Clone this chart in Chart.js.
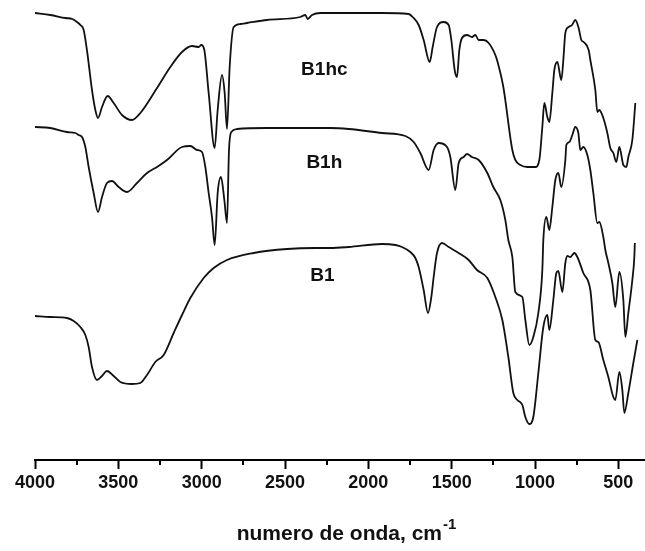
<!DOCTYPE html>
<html>
<head>
<meta charset="utf-8">
<script src="https://cdn.jsdelivr.net/npm/chart.js@4/dist/chart.umd.min.js"></script>
<style>
  html, body { margin: 0; padding: 0; background: #fff; }
  #wrap { width: 645px; height: 551px; }
</style>
</head>
<body>
<div id="wrap"><canvas id="irChart" width="645" height="551"></canvas></div>
<script>
// 波数 (cm-1) と信号 (任意単位, 縦にずらして表示)
const b1hcWavenumber = [4000, 3908, 3818, 3776, 3740, 3728, 3708, 3686, 3658, 3638, 3622, 3598, 3564, 3528, 3478, 3418, 3368, 3268, 3188, 3118,
  3058, 3018, 3002, 2984, 2958, 2922, 2904, 2878, 2862, 2848, 2832, 2808, 2768, 2728, 2608, 2408, 2378, 2364, 2338, 2288,
  2118, 1918, 1758, 1734, 1698, 1668, 1632, 1614, 1588, 1548, 1518, 1502, 1482, 1468, 1454, 1438, 1408, 1378, 1358, 1338,
  1308, 1278, 1238, 1228, 1190, 1136, 1118, 1088, 1046, 998, 974, 956, 944, 926, 914, 896, 884, 866, 842, 830,
  818, 798, 778, 758, 738, 722, 708, 678, 668, 638, 626, 614, 590, 566, 548, 530, 512, 494, 470, 452, 440, 416, 398];
const b1hcSignal = [447, 445, 442, 441, 437, 435, 430, 407, 370, 350, 342, 353, 364, 357, 345, 340, 347, 372, 393, 408,
  414, 413, 415, 410, 367, 312, 350, 385, 367, 331, 393, 433, 436, 437, 440, 443, 445, 441, 445, 447,
  447, 447, 446, 443, 435, 420, 398, 413, 433, 438, 435, 420, 390, 383, 410, 422, 425, 423, 425, 420,
  420, 417, 405, 400, 373, 310, 300, 295, 293, 293, 300, 333, 357, 343, 338, 367, 390, 398, 380, 400,
  427, 433, 435, 440, 432, 420, 418, 410, 400, 370, 348, 350, 342, 327, 312, 307, 298, 313, 295, 293, 303, 320, 357];

const b1hWavenumber = [4000, 3908, 3808, 3758, 3738, 3718, 3698, 3678, 3648, 3622, 3598, 3568, 3538, 3498, 3448, 3388, 3328, 3268, 3208, 3118,
  3068, 3028, 2998, 2978, 2958, 2938, 2922, 2904, 2884, 2864, 2848, 2836, 2822, 2788, 2608, 2408, 2228, 2118, 1918, 1778,
  1728, 1688, 1638, 1608, 1578, 1528, 1508, 1478, 1458, 1428, 1408, 1378, 1338, 1286, 1250, 1208, 1178, 1160, 1136, 1118,
  1076, 1058, 1034, 1010, 980, 956, 950, 932, 914, 896, 878, 860, 842, 818, 812, 794, 776, 758, 740, 728,
  710, 686, 668, 650, 626, 614, 590, 578, 560, 536, 518, 494, 470, 458, 440, 416, 404, 401];
const b1hSignal = [333, 332, 328, 327, 325, 323, 313, 293, 267, 248, 263, 277, 279, 273, 268, 277, 287, 293, 300, 313,
  314, 310, 308, 293, 267, 243, 215, 267, 283, 260, 237, 310, 328, 331, 332, 332, 332, 331, 327, 324,
  318, 307, 290, 310, 317, 313, 303, 270, 297, 303, 306, 303, 300, 287, 273, 260, 240, 220, 203, 168,
  163, 140, 115, 123, 147, 190, 220, 243, 230, 253, 280, 287, 273, 300, 315, 318, 325, 333, 327, 310,
  313, 305, 290, 267, 237, 238, 223, 210, 197, 177, 153, 188, 160, 123, 147, 180, 203, 217];

const b1Wavenumber = [4000, 3908, 3808, 3768, 3728, 3698, 3678, 3658, 3628, 3598, 3568, 3528, 3488, 3418, 3368, 3328, 3278, 3228, 3168, 3118,
  3068, 2988, 2928, 2848, 2688, 2488, 2318, 2228, 2118, 1918, 1838, 1798, 1748, 1718, 1698, 1668, 1642, 1622, 1608, 1588,
  1558, 1518, 1458, 1398, 1348, 1286, 1238, 1196, 1160, 1130, 1106, 1076, 1058, 1034, 1010, 980, 950, 926, 914, 890,
  872, 860, 836, 818, 806, 788, 764, 746, 710, 668, 638, 620, 590, 560, 530, 518, 494, 476, 464, 440, 410, 386];
const b1Signal = [144, 143, 142, 139, 133, 125, 113, 93, 80, 84, 89, 84, 78, 76, 77, 85, 98, 105, 127, 145,
  162, 182, 192, 200, 207, 211, 212, 212, 213, 216, 215, 213, 208, 202, 193, 170, 147, 163, 183, 207,
  217, 213, 207, 200, 190, 182, 163, 140, 103, 67, 60, 55, 43, 36, 43, 87, 133, 145, 130, 160,
  187, 189, 168, 197, 204, 203, 207, 203, 187, 170, 120, 118, 100, 83, 63, 60, 88, 70, 47, 67, 97, 120];

// 目盛り
const majorTicks = [4000, 3500, 3000, 2500, 2000, 1500, 1000, 500];
const minorTicks = [3750, 3250, 2750, 2250, 1750, 1250, 750];

// サンプル名とその位置 (波数, 信号)
const sampleNames = ['B1hc', 'B1h', 'B1'];
const sampleLabelX = [2264, 2264, 2276];
const sampleLabelY = [390, 297, 184];

const FONT = '"Liberation Sans", Arial, sans-serif';

function toPoints(xs, ys) {
  return xs.map((x, i) => ({ x: x, y: ys[i] }));
}

function lineSet(label, xs, ys) {
  return {
    label: label,
    data: toPoints(xs, ys),
    borderColor: '#111',
    borderWidth: 1.8,
    pointRadius: 0,
    fill: false,
    cubicInterpolationMode: 'monotone'
  };
}

// 小目盛り・サンプル名・軸タイトル
const extrasPlugin = {
  id: 'extras',
  afterDraw(chart) {
    const ctx = chart.ctx;
    const xs = chart.scales.x;
    const ys = chart.scales.y;
    const area = chart.chartArea;
    ctx.save();

    ctx.strokeStyle = '#000';
    ctx.lineWidth = 2;
    minorTicks.forEach(v => {
      const px = Math.round(xs.getPixelForValue(v));
      ctx.beginPath();
      ctx.moveTo(px, area.bottom);
      ctx.lineTo(px, area.bottom + 5);
      ctx.stroke();
    });

    ctx.fillStyle = '#111';
    ctx.font = 'bold 19px ' + FONT;
    ctx.textAlign = 'center';
    ctx.textBaseline = 'middle';
    sampleNames.forEach((name, i) => {
      ctx.fillText(name, xs.getPixelForValue(sampleLabelX[i]), ys.getPixelForValue(sampleLabelY[i]));
    });

    const mainText = 'numero de onda, cm';
    const supText = '-1';
    ctx.font = 'bold 21px ' + FONT;
    const wMain = ctx.measureText(mainText).width;
    ctx.font = 'bold 15px ' + FONT;
    const wSup = ctx.measureText(supText).width;
    const cx = (area.left + area.right) / 2 + 6;
    const x0 = cx - (wMain + wSup) / 2;
    ctx.textAlign = 'left';
    ctx.textBaseline = 'alphabetic';
    ctx.font = 'bold 21px ' + FONT;
    ctx.fillText(mainText, x0, 540);
    ctx.font = 'bold 15px ' + FONT;
    ctx.fillText(supText, x0 + wMain + 1, 529);
    ctx.restore();
  }
};

const ctx = document.getElementById('irChart').getContext('2d');

const irChart = new Chart(ctx, {
  type: 'line',
  data: {
    datasets: [
      lineSet('B1hc', b1hcWavenumber, b1hcSignal),
      lineSet('B1h', b1hWavenumber, b1hSignal),
      lineSet('B1', b1Wavenumber, b1Signal)
    ]
  },
  options: {
    responsive: false,
    animation: false,
    layout: { padding: { left: 35, right: 0, top: 0, bottom: 0 } },
    plugins: {
      legend: { display: false },
      tooltip: { enabled: false }
    },
    scales: {
      x: {
        type: 'linear',
        reverse: true,
        min: 340,
        max: 4000,
        position: 'bottom',
        afterBuildTicks: scale => {
          scale.ticks = majorTicks.map(v => ({ value: v }));
        },
        afterFit: scale => {
          scale.height = 91;
        },
        ticks: {
          color: '#111',
          font: { family: FONT, size: 18, weight: 'bold' },
          padding: 3,
          maxRotation: 0,
          autoSkip: false,
          callback: value => String(value)
        },
        grid: {
          display: true,
          drawOnChartArea: false,
          drawTicks: true,
          tickLength: 9,
          tickWidth: 2,
          tickColor: '#000'
        },
        border: { display: true, color: '#000', width: 2 }
      },
      y: {
        display: false,
        min: 0,
        max: 460
      }
    }
  },
  plugins: [extrasPlugin]
});
</script>
</body>
</html>
